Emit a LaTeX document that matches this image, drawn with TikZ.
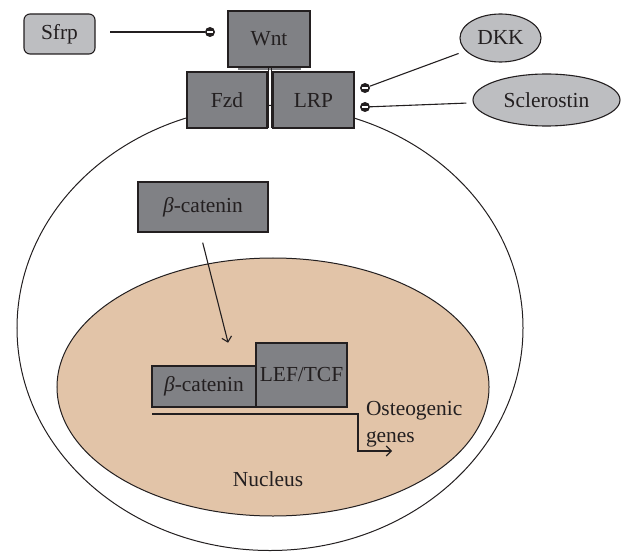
\documentclass[tikz,border=0pt]{standalone}
\usepackage{fontspec}
\setmainfont{Liberation Serif}
\usetikzlibrary{arrows.meta,shapes.geometric}
\definecolor{boxdark}{RGB}{128,129,133}
\definecolor{boxlight}{RGB}{189,190,193}
\definecolor{nucfill}{RGB}{226,196,168}
\definecolor{ink}{RGB}{35,31,32}
\begin{document}
\begin{tikzpicture}[x=1bp,y=-1bp,
  every node/.style={font=\fontsize{21.5}{27}\selectfont, text=ink},
  darkbox/.style={draw=ink, line width=1.1bp, fill=boxdark, inner sep=0pt, outer sep=0pt},
  lightbox/.style={draw=ink, line width=1.1bp, fill=boxlight, inner sep=0pt, outer sep=0pt, rounded corners=6bp},
  lightell/.style={ellipse, draw=ink, line width=1.1bp, fill=boxlight, inner sep=0pt, outer sep=0pt},
  inhib/.style={circle, fill=ink, draw=none, inner sep=0pt, outer sep=0pt, minimum size=10bp,
    path picture={\draw[white, line width=1.7bp] ([xshift=-3bp]path picture bounding box.center) -- ([xshift=3bp]path picture bounding box.center);}},
  conn/.style={draw=ink, line width=1.1bp},
  tip/.style={-{Straight Barb[length=5bp,width=10bp,line width=1.1bp]}},
  label/.style={inner sep=0pt, outer sep=0pt}
]
\useasboundingbox (0,0) rectangle (621,552);
% cell and nucleus
\draw[ink, line width=1bp] (270,328) ellipse [x radius=253bp, y radius=222.5bp];
\draw[ink, line width=1bp, fill=nucfill] (273,387) ellipse [x radius=216bp, y radius=129bp];
% receptor complex
\node[darkbox, minimum width=82bp, minimum height=56bp] (wnt) at (269,39) {Wnt};
\draw[boxdark, line width=2bp] (238,69.5) -- (301,69.5);
\node[darkbox, minimum width=80bp, minimum height=56bp] (fzd) at (227,100) {Fzd};
\node[darkbox, minimum width=81bp, minimum height=56bp] (lrp) at (313.5,100) {LRP};
\draw[ink, line width=0.8bp] (268.6,68) -- (268.6,128) (271.2,68) -- (271.2,128);
% inhibitors
\node[lightbox, minimum width=71bp, minimum height=40bp] (sfrp) at (59.5,34) {Sfrp};
\node[lightell, minimum width=81bp, minimum height=48bp] (dkk) at (500.5,38) {DKK};
\node[lightell, minimum width=147bp, minimum height=52bp] (scl) at (546.5,100) {Sclerostin};
\node[inhib] (i1) at (210,32) {};
\node[inhib] (i2) at (365,88) {};
\node[inhib] (i3) at (365,107) {};
\draw[conn, shorten <=15bp] (sfrp.east |- i1) -- (i1);
\draw[conn, shorten >=8bp] (i2) -- (dkk);
\draw[conn, shorten >=7bp] (i3) -- (scl);
% beta-catenin
\node[darkbox, minimum width=130bp, minimum height=50bp] (bc1) at (203,207) {\textit{β}-catenin};
\node[darkbox, minimum width=104bp, minimum height=41bp] (bc2) at (204,386.5) {\textit{β}-catenin};
\node[darkbox, minimum width=91bp, minimum height=64bp] (lef) at (301.5,375) {LEF/TCF};
\draw[conn, tip, shorten <=11bp, shorten >=24bp] ([xshift=-3bp]bc1.south) -- ([xshift=30bp]bc2.north);
% gene
\coordinate (gturn) at (358,451);
\coordinate (gend) at (392,451);
\draw[conn, tip] ([yshift=-7bp]bc2.south west) -| (gturn) -- (gend);
\node[label, align=left, anchor=west] (osteo) at (366,424) {Osteogenic\\genes};
\node[label] (nuc) at (268,479) {Nucleus};
\end{tikzpicture}
\end{document}
